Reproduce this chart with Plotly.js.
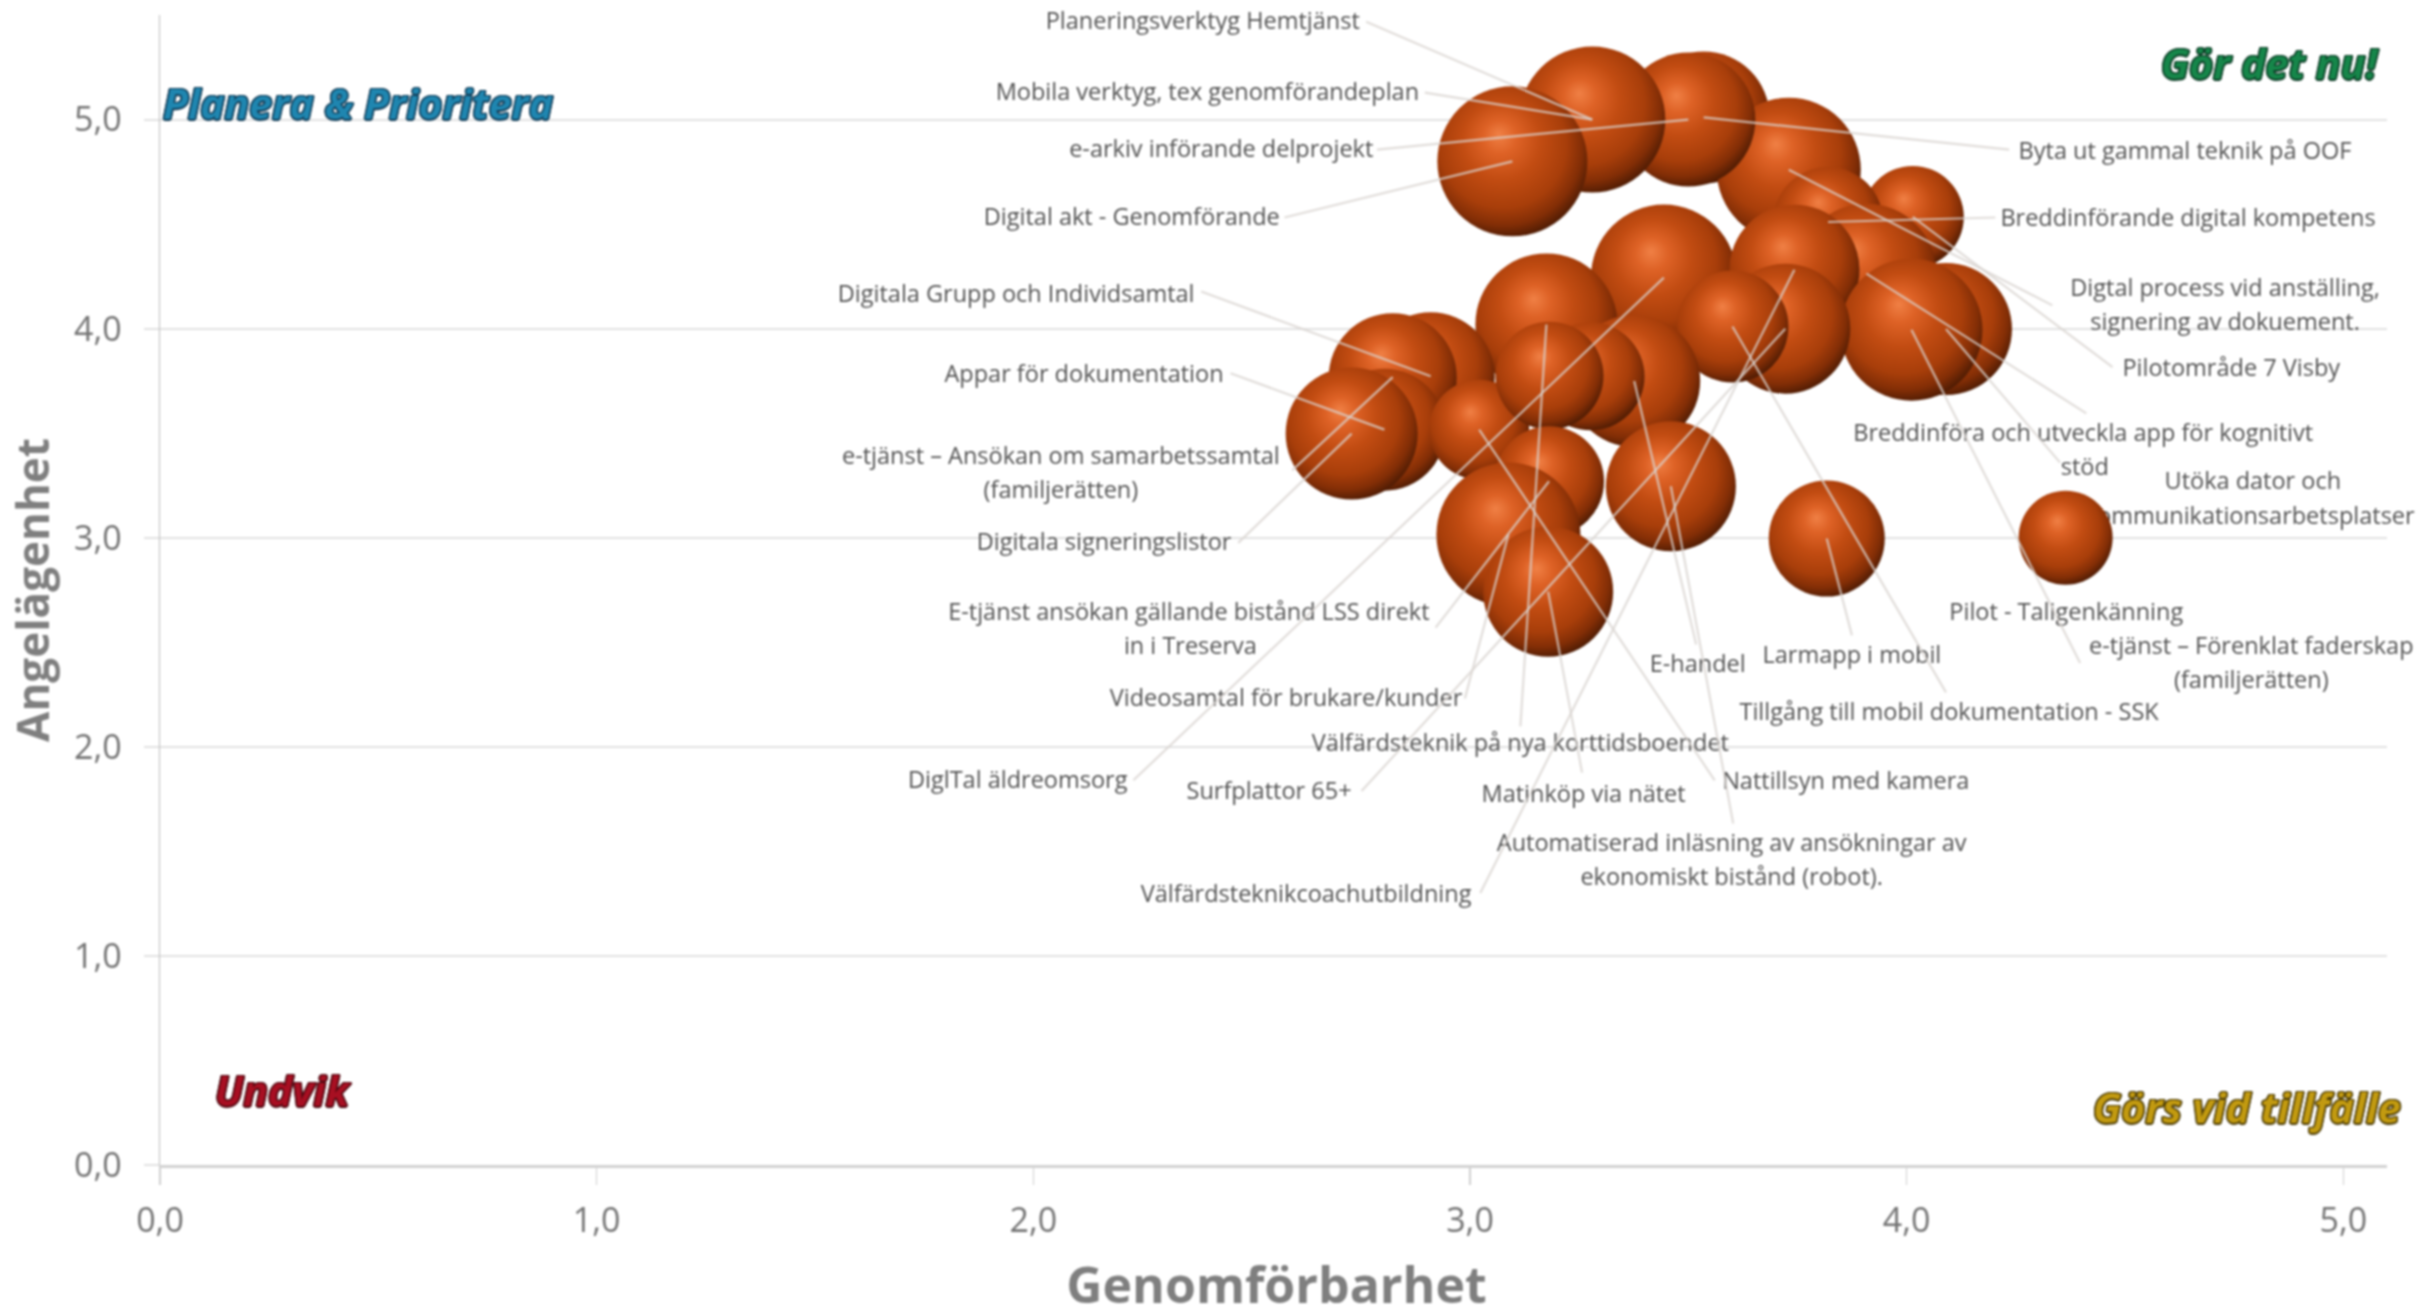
<!DOCTYPE html>
<html>
<head>
<meta charset="utf-8">
<script src="https://cdn.plot.ly/plotly-3.0.0.min.js"></script>
<style>html,body{margin:0;padding:0;background:#fff}#chart{width:2418px;height:1309px;filter:blur(0.8px)}</style>
</head>
<body>
<div id="chart"></div>
<script>
// Bubble values, in drawing order (back to front)
const bubbleX = [3.535,3.73,3.50,3.28,3.097,4.014,3.82,3.908,3.444,3.743,4.09,4.011,3.722,3.601,3.175,2.91,2.823,2.804,2.729,3.021,3.376,3.276,3.182,3.181,3.46,3.088,3.179,3.817,4.364];
const bubbleY = [5.01,4.76,5.00,5.00,4.80,4.534,4.51,4.263,4.244,4.282,3.998,3.995,4.0,4.01,4.02,3.772,3.768,3.517,3.498,3.517,3.75,3.772,3.775,3.27,3.246,3.015,2.742,2.996,3.0];
const bubbleSize = [66,72,67,73,75,51,55,70,73,65,66,71,65,56,71,64,64,61,66,50,66,54,54,55,65,72,65,58,47];

// Label lines
const labelLines = [
 "Planeringsverktyg Hemtjänst","Mobila verktyg, tex genomförandeplan","e-arkiv införande delprojekt","Digital akt - Genomförande",
 "Digitala Grupp och Individsamtal","Appar för dokumentation","e-tjänst – Ansökan om samarbetssamtal","(familjerätten)",
 "Digitala signeringslistor","E-tjänst ansökan gällande bistånd LSS direkt","in i Treserva","Videosamtal för brukare/kunder",
 "DiglTal äldreomsorg","Surfplattor 65+","Välfärdsteknik på nya korttidsboendet","Matinköp via nätet",
 "Välfärdsteknikcoachutbildning","Automatiserad inläsning av ansökningar av","ekonomiskt bistånd (robot).","Nattillsyn med kamera",
 "E-handel","Larmapp i mobil","Tillgång till mobil dokumentation - SSK","Pilot - Taligenkänning",
 "e-tjänst – Förenklat faderskap","(familjerätten)","Utöka dator och","kommunikationsarbetsplatser",
 "Breddinföra och utveckla app för kognitivt","stöd","Byta ut gammal teknik på OOF","Breddinförande digital kompetens",
 "Digtal process vid anställing,","signering av dokuement.","Pilotområde 7 Visby"];
// Label centres, in pixels of a 1568-wide view of the picture
const labelPosX = [780,783,792,734,659,703,688,688,716,771,772,834,660,823,986,1027,847,1123,1123,1197,1101,1201,1264,1340,1460,1460,1461,1459,1351,1352,1417,1419,1443,1443,1447];
const labelPosY = [15,61,98,142,192,244,297,319,353,398,420,454,507,514,483,516,581,548,570,508,432,426,463,398,420,442,313,336,282,304,99,143,188,210,240];

// Leader lines: starting pixel (same 1568-wide view) and the bubble they point to
const leaderStartX = [886,924,893,833,779,798,838,803,931,950,735,883,986,1026,960,1124,1112,1100,1201,1262,1349,1353,1336,1303,1294,1331,1370];
const leaderStartY = [14,60,97,141,189,242,305,352,407,453,506,513,471,501,579,534,506,418,412,449,430,268,300,97,141,198,238];
const leaderTarget = [3,3,2,4,15,17,16,18,23,25,8,12,14,26,9,24,19,20,27,13,11,7,10,0,6,1,5];

// Quadrant captions
const quadText = ["Planera &amp; Prioritera","Gör det nu!","Undvik","Görs vid tillfälle"];
const quadPosX = [232,1472,184,1457];
const quadPosY = [67,41,707,718];
const quadFill = ["#1f86b0","#16864a","#a80f22","#c29a10"];
const quadEdge = ["#103a55","#0b3a24","#4c0810","#4a3a05"];

const xTicks = [0,1,2,3,4,5];
const yTicks = [0,1,2,3,4,5];

const K = 2418/1568;
const toX = p => (p*K-160)/436.7;
const toY = p => (1165-p*K)/209.1;

const leaderX = [], leaderY = [];
leaderTarget.forEach((t,i)=>{
  leaderX.push(toX(leaderStartX[i]), bubbleX[t], null);
  leaderY.push(toY(leaderStartY[i]), bubbleY[t], null);
});

const textTrace = {type:'scatter',mode:'text',x:labelPosX.map(toX),y:labelPosY.map(toY),text:labelLines,
  textposition:'middle center',cliponaxis:false,hoverinfo:'skip',showlegend:false,
  textfont:{family:'"Open Sans",sans-serif',size:23.5,color:'#525252'}};
const bubbleTrace = {type:'scatter',mode:'markers',x:bubbleX,y:bubbleY,cliponaxis:false,hoverinfo:'x+y',showlegend:false,
  marker:{size:bubbleSize,sizemode:'diameter',sizeref:0.5,color:'#f58a50',opacity:1,line:{width:0},gradient:{type:'radial',color:'#4a1a04'}}};
const leaderTrace = {type:'scatter',mode:'lines',x:leaderX,y:leaderY,cliponaxis:false,hoverinfo:'skip',showlegend:false,
  line:{color:'rgba(216,212,208,0.78)',width:2.2}};

const shadowOf = c => [[-1.5,0],[1.5,0],[0,-1.5],[0,1.5],[-1.2,-1.2],[1.2,-1.2],[-1.2,1.2],[1.2,1.2]].map(o=>o[0]+'px '+o[1]+'px 0 '+c).join(',');
const annotations = quadText.map((t,i)=>({text:t,x:toX(quadPosX[i]),y:toY(quadPosY[i]),xref:'x',yref:'y',showarrow:false,
  xanchor:'center',yanchor:'middle',
  font:{family:'"Open Sans",sans-serif',size:41,weight:700,style:'italic',color:quadFill[i],shadow:shadowOf(quadEdge[i])}}));

const layout = {
  width:2418,height:1309,margin:{l:160,r:31,t:15,b:144,pad:0},paper_bgcolor:'#fff',plot_bgcolor:'#fff',
  separators:', ',showlegend:false,annotations,
  xaxis:{range:[0,5.1],tickvals:xTicks,tickformat:'.1f',ticks:'outside',ticklen:17,tickwidth:1.5,tickcolor:'#cfcfcf',ticklabelstandoff:6,
    showgrid:false,zeroline:false,showline:true,linecolor:'#d2d2d2',linewidth:3,automargin:false,
    tickfont:{family:'"Open Sans",sans-serif',size:34,color:'#737373'},
    title:{text:'Genomförbarhet',font:{family:'"Open Sans",sans-serif',size:50,weight:700,color:'#7f7f7f'}}},
  yaxis:{range:[0,5.5],tickvals:yTicks,tickformat:'.1f',ticks:'outside',ticklen:15,tickwidth:2,tickcolor:'#e2e2e2',ticklabelstandoff:15,
    showgrid:true,gridcolor:'#e2e2e2',gridwidth:2,zeroline:false,showline:true,linecolor:'#bdbdbd',linewidth:1.5,automargin:false,
    tickfont:{family:'"Open Sans",sans-serif',size:34,color:'#737373'},
    title:{text:'Angelägenhet',font:{family:'"Open Sans",sans-serif',size:44,weight:700,color:'#7f7f7f'},standoff:10}}
};

Plotly.newPlot('chart',[textTrace,bubbleTrace,leaderTrace],layout,{displayModeBar:false,staticPlot:true}).then(gd=>{
  // Sphere shading: move the gradient's focal point up and left
  const stops = [[0,'#f08045'],[0.18,'#de6226'],[0.42,'#c24c12'],[0.68,'#a83e0a'],[0.84,'#832e06'],[0.95,'#551e04'],[1,'#2e1002']];
  gd.querySelectorAll('radialGradient').forEach(g=>{
    g.setAttribute('cx','0.45');g.setAttribute('cy','0.42');g.setAttribute('r','0.62');
    g.setAttribute('fx','0.41');g.setAttribute('fy','0.32');
    while(g.firstChild) g.removeChild(g.firstChild);
    stops.forEach(s=>{
      const e=document.createElementNS('http://www.w3.org/2000/svg','stop');
      e.setAttribute('offset',s[0]);e.setAttribute('stop-color',s[1]);g.appendChild(e);
    });
  });
  // Nudge the horizontal axis title down to its place in the reference
  const xt = gd.querySelector('.xtitle');
  if(xt){ xt.setAttribute('transform','translate(3,9)'); }
});
</script>
</body>
</html>
